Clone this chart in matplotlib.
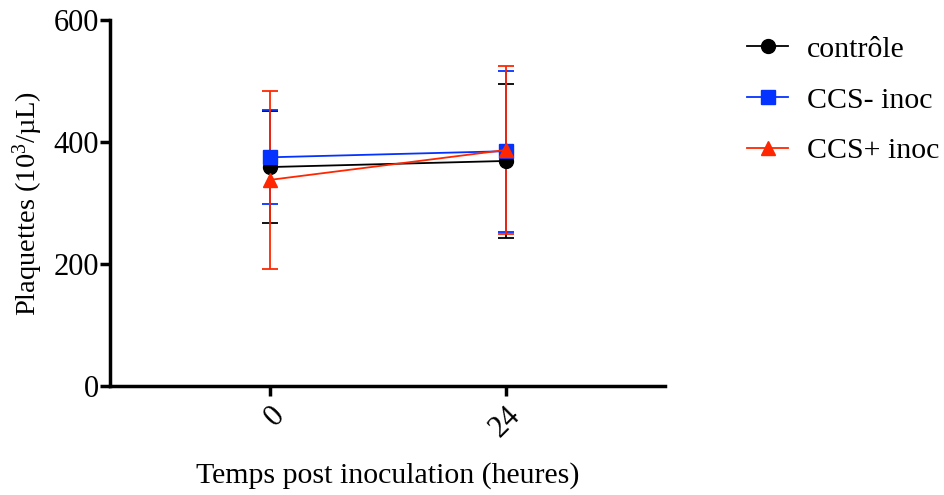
import matplotlib.pyplot as plt
from matplotlib.lines import Line2D

plt.rcParams["font.family"] = ["Liberation Serif", "DejaVu Serif"]
plt.rcParams["mathtext.fontset"] = "custom"
plt.rcParams["mathtext.rm"] = "Liberation Serif"
plt.rcParams["mathtext.default"] = "regular"

# Données
temps = [0, 24]
series = ["contrôle", "CCS- inoc", "CCS+ inoc"]
moyennes = [
    [359, 369],
    [375, 385],
    [338, 387],
]
ecarts = [
    [92, 126],
    [77, 132],
    [146, 137],
]
couleurs = ["#000000", "#0433FF", "#FF2600"]
marqueurs = ["o", "s", "^"]

fig = plt.figure(figsize=(9.44, 4.95), dpi=100)
ax = fig.add_axes([0.1165, 0.22, 0.588, 0.7396])

poignees = []
for nom, y, e, c, m in zip(series, moyennes, ecarts, couleurs, marqueurs):
    ax.errorbar(temps, y, yerr=e, color=c, marker=m, markersize=10,
                linewidth=1.3, elinewidth=1.3, capsize=6, capthick=1.3)
    poignees.append(Line2D([], [], color=c, marker=m, markersize=10,
                           linewidth=1.3, label=nom))

ax.set_xlim(-16.3, 40.2)
ax.set_ylim(0, 600)
ax.set_xticks(temps)
ax.set_xticklabels([str(t) for t in temps], rotation=45, ha="right",
                   rotation_mode="anchor")
ax.set_yticks([0, 200, 400, 600])

for s in ["top", "right"]:
    ax.spines[s].set_visible(False)
for s in ["left", "bottom"]:
    ax.spines[s].set_linewidth(2.5)
ax.tick_params(axis="both", width=2.5, length=7, labelsize=22)
ax.tick_params(axis="y", pad=1)

ax.set_xlabel("Temps post inoculation (heures)", fontsize=21.5, labelpad=14)
ax.set_ylabel("Plaquettes (10$^{3}$/µL)", fontsize=20.5, labelpad=6)

ax.legend(handles=poignees, loc="upper left", bbox_to_anchor=(1.10, 1.03),
          frameon=False, fontsize=21.5, handlelength=1.35, labelspacing=0.8,
          handletextpad=0.65)

fig.savefig("out.png", dpi=100)
